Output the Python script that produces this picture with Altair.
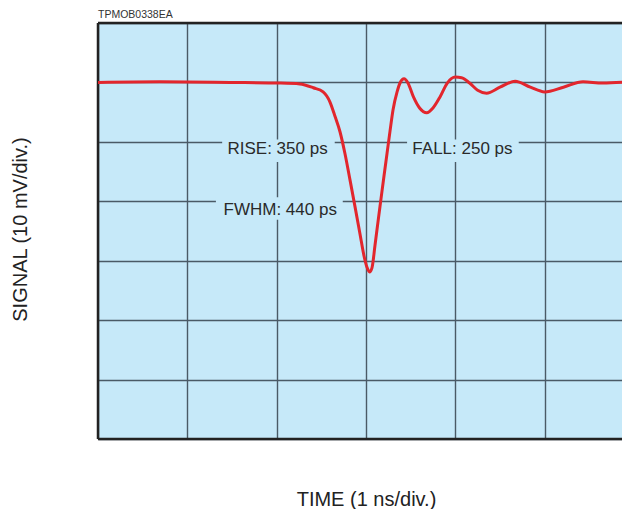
import altair as alt
import pandas as pd

# Waveform (time in ns, signal in mV relative to baseline)
time_ns = [0.00, 0.69, 1.48, 2.04, 2.26, 2.41, 2.52, 2.597, 2.653, 2.709, 2.765, 2.821,
           2.877, 2.933, 2.978, 3.011, 3.039, 3.067, 3.101, 3.134, 3.168, 3.202, 3.236,
           3.269, 3.303, 3.348, 3.381, 3.426, 3.47, 3.53, 3.60, 3.68, 3.75, 3.83, 3.91,
           4.00, 4.07, 4.16, 4.25, 4.35, 4.50, 4.67, 4.84, 5.00, 5.21, 5.43, 5.65, 5.96]
signal_mv = [0.0, 0.1, 0.0, -0.1, -0.25, -0.9, -1.6, -3.3, -5.7, -8.3, -12.0, -16.4,
             -20.9, -25.5, -29.2, -31.1, -31.9, -31.2, -27.4, -23.5, -19.6, -15.7, -11.9,
             -8.2, -4.6, -1.6, -0.1, 0.6, -0.1, -2.4, -4.3, -5.1, -4.3, -2.4, -0.1,
             0.9, 0.8, -0.1, -1.3, -1.8, -0.8, 0.2, -0.8, -1.6, -0.8, 0.1, -0.1, 0.1]

# Annotations
label_text = ["RISE: 350 ps", "FALL: 250 ps", "FWHM: 440 ps"]
label_x = [2.01, 4.08, 2.04]
label_y = [-11.2, -11.2, -21.5]
box_x1 = [1.39, 3.46, 1.32]
box_x2 = [2.65, 4.71, 2.74]
box_y1 = [-9.6, -9.6, -19.3]
box_y2 = [-13.4, -13.4, -23.1]

x_ticks = [0, 1, 2, 3, 4, 5]
y_ticks = [-60, -50, -40, -30, -20, -10, 0, 10]

BG = "#c6e9f9"
FONT = "Liberation Sans"
PW, PH = 524, 416

wave = pd.DataFrame({"t": time_ns, "s": signal_mv})
labels = pd.DataFrame({"text": label_text, "x": label_x, "y": label_y,
                       "x1": box_x1, "x2": box_x2, "y1": box_y1, "y2": box_y2})

xs = alt.Scale(domain=[0, 5.866], nice=False, zero=False)
ys = alt.Scale(domain=[-60, 10], nice=False, zero=False)

x_axis = alt.Axis(values=x_ticks, labels=False, ticks=False, domain=False, grid=True,
                  gridColor="#4a5a66", gridWidth=1.4, title="TIME (1 ns/div.)",
                  titleFont=FONT, titleFontSize=20, titleFontWeight="normal",
                  titleColor="#222222", titleX=268, titleY=66, titleBaseline="alphabetic",
                  titleAlign="center")
y_axis = alt.Axis(values=y_ticks, labels=False, ticks=False, domain=False, grid=True,
                  gridColor="#4a5a66", gridWidth=1.4, title="SIGNAL (10 mV/div.)",
                  titleFont=FONT, titleFontSize=20, titleFontWeight="normal",
                  titleColor="#222222", titleX=-78, titleY=206, titleBaseline="middle",
                  titleAlign="center", titleAngle=270)

base_grid = alt.Chart(wave).mark_point(opacity=0).encode(
    x=alt.X("t:Q", scale=xs, axis=x_axis),
    y=alt.Y("s:Q", scale=ys, axis=y_axis),
)

boxes = alt.Chart(labels).mark_rect(fill=BG, strokeWidth=0).encode(
    x=alt.X("x1:Q", scale=xs), x2="x2:Q",
    y=alt.Y("y1:Q", scale=ys), y2="y2:Q",
)

texts = alt.Chart(labels).mark_text(font=FONT, fontSize=17, color="#2a2a2a",
                                    align="center", baseline="middle").encode(
    x=alt.X("x:Q", scale=xs), y=alt.Y("y:Q", scale=ys), text="text:N")

border_h = pd.DataFrame({"y": [10, -60]})
border = alt.Chart(border_h).mark_rule(color="#222222", strokeWidth=2.5).encode(
    y=alt.Y("y:Q", scale=ys), x=alt.value(0), x2=alt.value(PW))
border_v = alt.Chart(pd.DataFrame({"x": [0]})).mark_rule(color="#222222", strokeWidth=2.5).encode(
    x=alt.X("x:Q", scale=xs), y=alt.value(0), y2=alt.value(PH))

curve = alt.Chart(wave).mark_line(color="#e2262d", strokeWidth=3, interpolate="monotone",
                                  clip=True).encode(
    x=alt.X("t:Q", scale=xs), y=alt.Y("s:Q", scale=ys))

code_label = alt.Chart(pd.DataFrame({"c": ["TPMOB0338EA"]})).mark_text(
    font=FONT, fontSize=10.5, color="#333333", align="left", baseline="alphabetic"
).encode(x=alt.value(0), y=alt.value(-5.5), text="c:N")

chart = alt.layer(base_grid, boxes, texts, border, border_v, curve, code_label).properties(
    width=PW, height=PH,
    autosize=alt.AutoSizeParams(type="none"),
    padding={"left": 90, "top": 15, "right": 0, "bottom": 70},
).configure_view(fill=BG, strokeWidth=0)

chart.save("out.html", embed_options={"renderer": "svg", "actions": False})
